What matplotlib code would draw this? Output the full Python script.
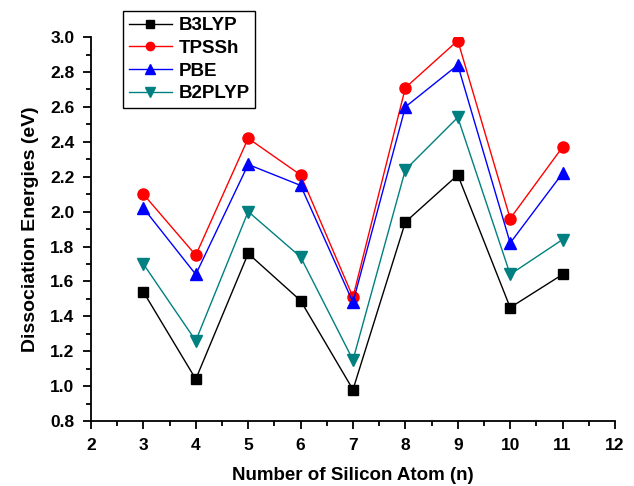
import matplotlib
matplotlib.use("Agg")
import matplotlib.pyplot as plt
from matplotlib.ticker import MultipleLocator

plt.rcParams["font.family"] = ["Liberation Sans", "DejaVu Sans"]
plt.rcParams["font.weight"] = "bold"

n_atoms = [3, 4, 5, 6, 7, 8, 9, 10, 11]
b3lyp = [1.54, 1.04, 1.76, 1.49, 0.98, 1.94, 2.21, 1.45, 1.64]
tpssh = [2.10, 1.75, 2.42, 2.21, 1.51, 2.71, 2.98, 1.96, 2.37]
pbe = [2.02, 1.64, 2.27, 2.15, 1.48, 2.60, 2.84, 1.82, 2.22]
b2plyp = [1.70, 1.26, 2.00, 1.74, 1.15, 2.24, 2.54, 1.64, 1.84]

series = [("B3LYP", b3lyp, "black", "s", 7),
          ("TPSSh", tpssh, "red", "o", 8),
          ("PBE", pbe, "blue", "^", 9),
          ("B2PLYP", b2plyp, "#008080", "v", 9)]

fig = plt.figure(figsize=(6.34, 4.86), dpi=100)
ax = fig.add_axes([0.1435, 0.1337, 0.8265, 0.790])

for label, vals, color, marker, ms in series:
    ax.plot(n_atoms, vals, color=color, marker=marker, markersize=ms,
            linewidth=1, label=label)

ax.set_xlim(2, 12)
ax.set_ylim(0.8, 3.0)
ax.xaxis.set_major_locator(MultipleLocator(1))
ax.xaxis.set_minor_locator(MultipleLocator(0.5))
ax.yaxis.set_major_locator(MultipleLocator(0.2))
ax.yaxis.set_minor_locator(MultipleLocator(0.1))
ax.tick_params(which="major", direction="out", length=6, width=1.3,
               labelsize=12.5, pad=6)
ax.tick_params(which="minor", direction="out", length=3.5, width=1.3)
for lab in ax.get_xticklabels() + ax.get_yticklabels():
    lab.set_fontweight("bold")
ax.spines["top"].set_visible(False)
ax.spines["right"].set_visible(False)
ax.spines["left"].set_linewidth(1.3)
ax.spines["bottom"].set_linewidth(1.3)

ax.set_xlabel("Number of Silicon Atom (n)", fontsize=13.5, fontweight="bold", labelpad=10)
ax.set_ylabel("Dissociation Energies (eV)", fontsize=14, fontweight="bold", labelpad=8)

leg = ax.legend(loc="upper left", bbox_to_anchor=(0.061, 1.067), fontsize=13.5,
                frameon=True, fancybox=False, edgecolor="black", framealpha=1,
                handlelength=2.3, borderpad=0.3, labelspacing=0.3,
                handletextpad=0.35, markerscale=0.75, borderaxespad=0)
leg.get_frame().set_linewidth(1)
for t in leg.get_texts():
    t.set_fontweight("bold")

fig.savefig("out.png", dpi=100)
